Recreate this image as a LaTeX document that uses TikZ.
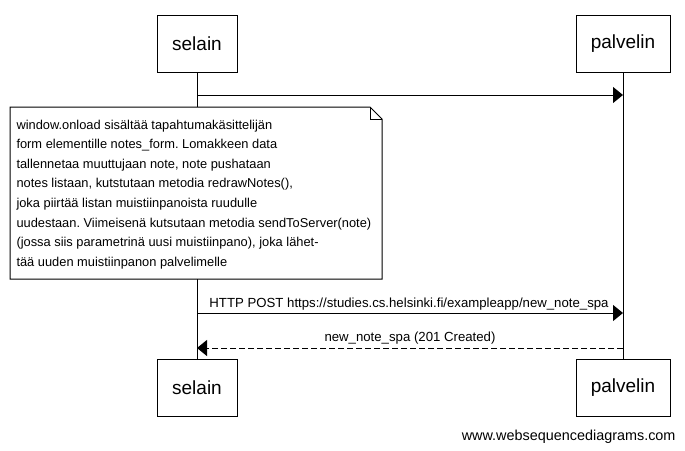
\documentclass[tikz,border=0pt]{standalone}
\usepackage{fontspec}
\setmainfont{Liberation Sans}
\usetikzlibrary{arrows.meta}
\frenchspacing
\begin{document}
\begin{tikzpicture}[x=1pt,y=-1pt,line width=1pt,
  actor/.style={draw,fill=white,minimum width=#1,minimum height=57pt,inner sep=0pt,font=\fontsize{19}{22}\selectfont},
  notetext/.style={anchor=base west,inner sep=0pt,font=\fontsize{12.85}{15}\selectfont},
  msglabel/.style={anchor=base,inner sep=0pt,font=\fontsize{13.2}{15}\selectfont},
  msg/.style={-{Triangle[length=10pt,width=16pt]}},
  reply/.style={-{Triangle[length=10pt,width=16pt]},dash pattern=on 6pt off 3pt}]
\useasboundingbox (0,0) rectangle (685,450);
\node[actor=80pt] (s1) at (197,43.5) {selain};
\node[actor=94pt] (p1) at (623,43.5) {palvelin};
\node[actor=80pt] (s2) at (197,387.5) {selain};
\node[actor=94pt] (p2) at (623,387.5) {palvelin};
\draw (s1.south) -- (s2.north);
\draw (p1.south) -- (p2.north);
\coordinate (a1s) at (197,95);
\coordinate (a1e) at (623,95);
\draw[msg] (a1s) -- (a1e);
% note
\draw[fill=white] (10,107) -- (370,107) -- (382,119) -- (382,279) -- (10,279) -- cycle;
\draw (370,107) -- (370,119) -- (382,119);
\node[notetext] (n1) at (16,129) {window.onload sisältää tapahtumakäsittelijän};
\node[notetext] (n2) at (16,148.6) {form elementille notes\_form. Lomakkeen data};
\node[notetext] (n3) at (16,168.2) {tallennetaa muuttujaan note, note pushataan};
\node[notetext] (n4) at (16,187.8) {notes listaan, kutstutaan metodia redrawNotes(),};
\node[notetext] (n5) at (16,207.4) {joka piirtää listan muistiinpanoista ruudulle};
\node[notetext] (n6) at (16,227) {uudestaan. Viimeisenä kutsutaan metodia sendToServer(note)};
\node[notetext] (n7) at (16,246.6) {(jossa siis parametrinä uusi muistiinpano), joka lähet-};
\node[notetext] (n8) at (16,266.2) {tää uuden muistiinpanon palvelimelle};
\coordinate (a2s) at (197,313);
\coordinate (a2e) at (623,313);
\draw[msg] (a2s) -- (a2e);
\node[msglabel] (l2) at (409,307) {HTTP POST https://studies.cs.helsinki.fi/exampleapp/new\_note\_spa};
\coordinate (a3s) at (623,348);
\coordinate (a3e) at (197,348);
\draw[reply] (a3s) -- (a3e);
\node[msglabel] (l3) at (410,341.5) {new\_note\_spa (201 Created)};
\node[anchor=base east,inner sep=0pt,font=\fontsize{14.4}{16}\selectfont] (wm) at (676,440) {www.websequencediagrams.com};
\end{tikzpicture}
\end{document}
